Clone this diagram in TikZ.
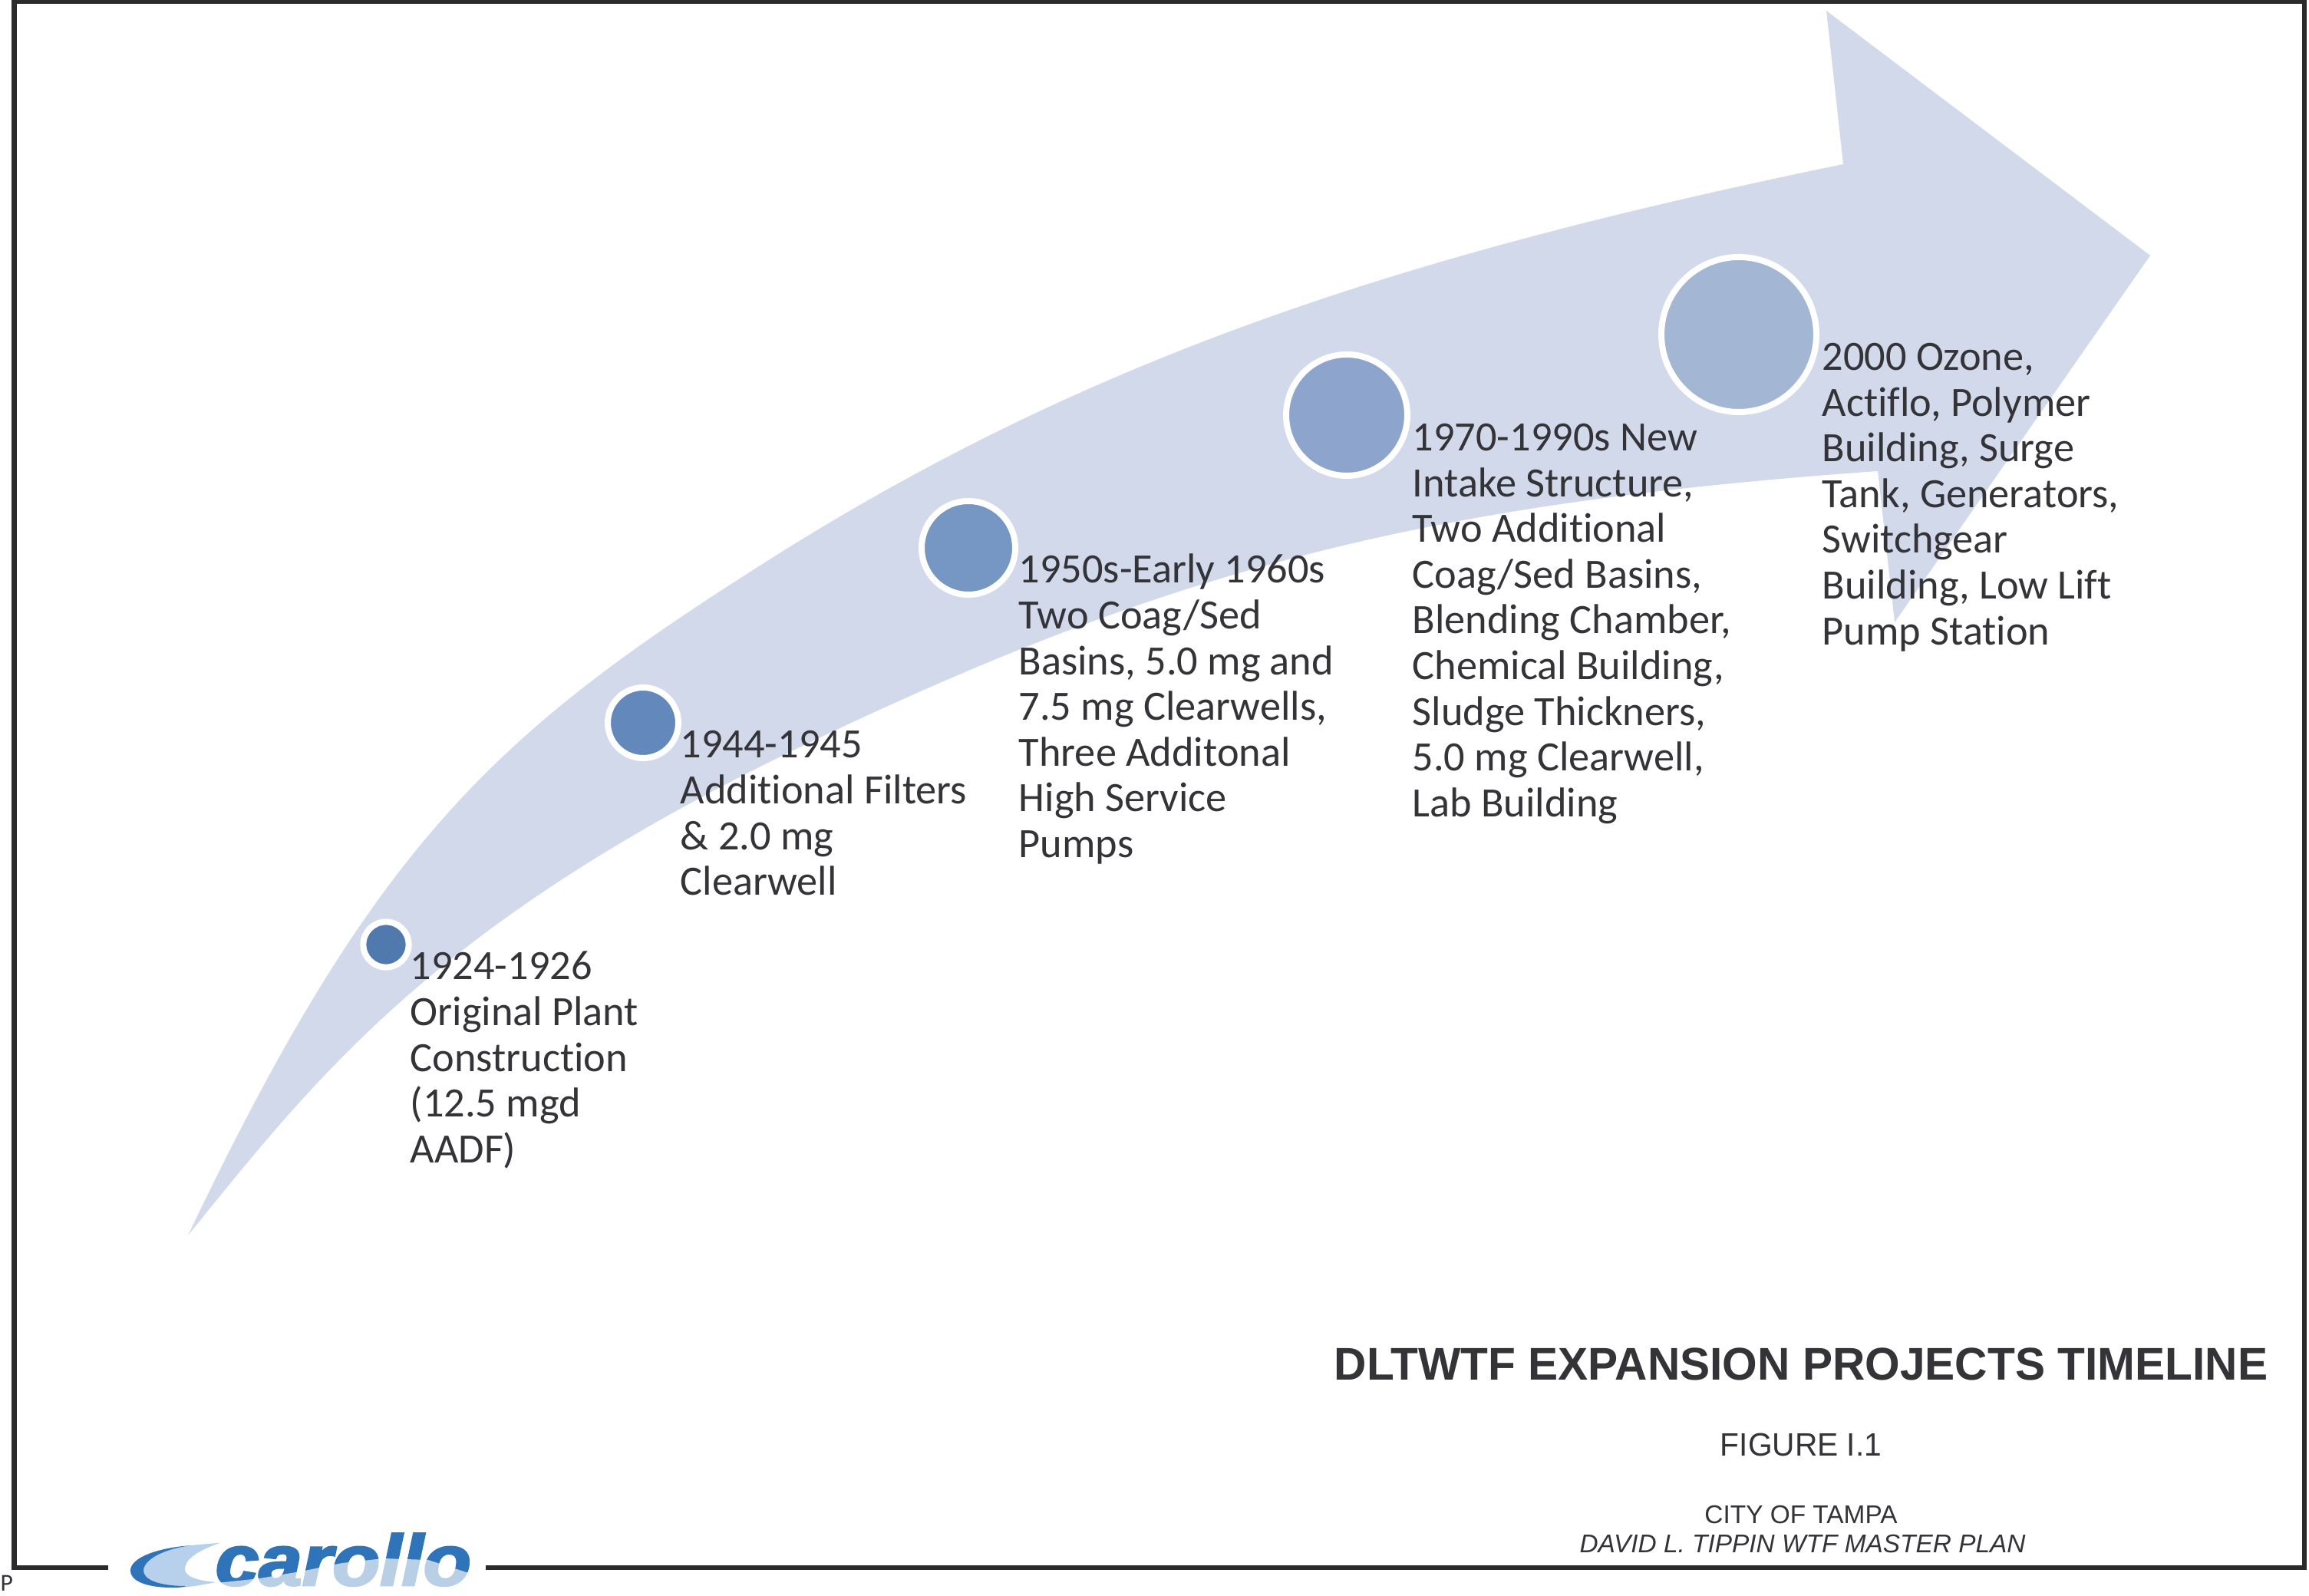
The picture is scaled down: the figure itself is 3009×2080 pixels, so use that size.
\documentclass[tikz,border=0pt]{standalone}
\usepackage{fontspec}
\usepackage{xcolor}
\usepackage{tikz}
\usetikzlibrary{calc}
\setmainfont{Carlito}[Ligatures=NoCommon]
\newfontfamily\capfont{Liberation Sans}
\newfontfamily\logofont[FakeBold=3]{Liberation Sans}
\definecolor{frame}{HTML}{2B2B2B}
\definecolor{body}{HTML}{D2D9EA}
\definecolor{ink}{HTML}{333338}
\definecolor{dotA}{HTML}{5079AE}
\definecolor{dotB}{HTML}{6388BB}
\definecolor{dotC}{HTML}{7696C3}
\definecolor{dotD}{HTML}{8DA5CD}
\definecolor{dotE}{HTML}{A3B6D4}
\definecolor{logoD}{HTML}{2F74B8}
\definecolor{logoL}{HTML}{B7D1EC}
\tikzset{
  outline/.style={draw=frame, line width=0.06cm, line join=miter},
  ring/.style={draw=white, line width=0.08cm},
  lab/.style={anchor=north west, align=left, inner sep=0pt, text=ink,
    font=\fontsize{15.45}{16.95}\selectfont, execute at begin node=\strut},
  capline/.style={inner sep=0pt, text=ink}
}
\begin{document}
\begin{tikzpicture}[x=0.01cm, y=-0.01cm]
  \useasboundingbox (0,0) rectangle (3009,2080);

  \coordinate (Y1) at (503,1231);
  \coordinate (Y2) at (838,942);
  \coordinate (Y3) at (1262,714);
  \coordinate (Y4) at (1755,541);
  \coordinate (Y5) at (2266,436);

  % sheet border, open where the logo sits
  \draw[outline] (141,2043) -- (18.5,2043) -- (18.5,2.5) -- (3003,2.5) -- (3003,2043) -- (633,2043);

  % curved arrow
  \fill[body] (245,1610) .. controls (491,1094) and (648,954) .. (1000,731)
    .. controls (1426,461) and (1840,330) .. (2402,214)
    -- (2380,14) -- (2802,333) -- (2469,811) -- (2447,614)
    .. controls (1857,656) and (1533,741) .. (1071,960)
    .. controls (574,1195) and (419,1395) .. (245,1610) -- cycle;

  \draw[ring, fill=dotA] (Y1) circle (29.6);
  \draw[ring, fill=dotB] (Y2) circle (46);
  \draw[ring, fill=dotC] (Y3) circle (61);
  \draw[ring, fill=dotD] (Y4) circle (79);
  \draw[ring, fill=dotE] (Y5) circle (101);

  \node[lab] (stageA) at ($(Y1)+(31,8.5)$) {1924-1926\\Original Plant\\Construction\\(12.5 mgd\\AADF)};
  \node[lab] (stageB) at ($(Y2)+(48,10)$) {1944-1945\\Additional Filters\\\& 2.0 mg\\Clearwell};
  \node[lab] (stageC) at ($(Y3)+(65,7.5)$) {1950s-Early 1960s\\Two Coag/Sed\\Basins, 5.0 mg and\\7.5 mg Clearwells,\\Three Additonal\\High Service\\Pumps};
  \node[lab] (stageD) at ($(Y4)+(85,10.5)$) {1970-1990s New\\Intake Structure,\\Two Additional\\Coag/Sed Basins,\\Blending Chamber,\\Chemical Building,\\Sludge Thickners,\\5.0 mg Clearwell,\\Lab Building};
  \node[lab] (stageE) at ($(Y5)+(108,10.5)$) {2000 Ozone,\\Actiflo, Polymer\\Building, Surge\\Tank, Generators,\\Switchgear\\Building, Low Lift\\Pump Station};

  % title block
  \node[capline, xscale=0.981, font=\capfont\bfseries\fontsize{17}{20}\selectfont] (title) at (2347,1778) {DLTWTF EXPANSION PROJECTS TIMELINE};
  \node[capline, xscale=0.965, font=\capfont\fontsize{12}{14}\selectfont] (figno) at (2347,1883) {FIGURE I.1};
  \node[capline, font=\capfont\fontsize{9.5}{11}\selectfont] (client) at (2347,1974) {CITY OF TAMPA};
  \node[capline, font=\capfont\itshape\fontsize{9.5}{11}\selectfont] (project) at (2349,2012) {DAVID L. TIPPIN WTF MASTER PLAN};
  \node[inner sep=0pt, anchor=base west, text=ink, font=\fontsize{9}{11}\selectfont] (pmark) at (0,2073) {P};

  % logo: swoosh, then the word with its lower part paled
  \fill[logoL] (286,2011) .. controls (255,2022) and (241,2033) .. (241,2045) .. controls (241,2055) and (258,2060) .. (281,2062)
    .. controls (262,2066) and (245,2069) .. (225,2069) .. controls (190,2069) and (170,2060) .. (170,2047) .. controls (170,2028) and (215,2015) .. (286,2011) -- cycle;
  \fill[logoD] (250,2014) .. controls (205,2017) and (170,2030) .. (170,2047) .. controls (170,2060) and (190,2069) .. (225,2069)
    .. controls (235,2069) and (240,2068) .. (243,2067) .. controls (205,2067) and (187,2058) .. (187,2047) .. controls (187,2032) and (215,2018) .. (250,2014) -- cycle;
  \node[inner sep=0pt, anchor=base west, text=logoD, font=\logofont\bfseries\itshape\fontsize{26.5}{30}\selectfont, xscale=1.09] (logo) at (280,2066) {carollo};
  \fill[white, fill opacity=0.66] (283,2063) -- (339,2057) -- (397,2047) -- (446,2037) -- (500,2031) -- (558,2033) -- (614,2051) -- (614,2072) -- (283,2072) -- cycle;
\end{tikzpicture}
\end{document}
